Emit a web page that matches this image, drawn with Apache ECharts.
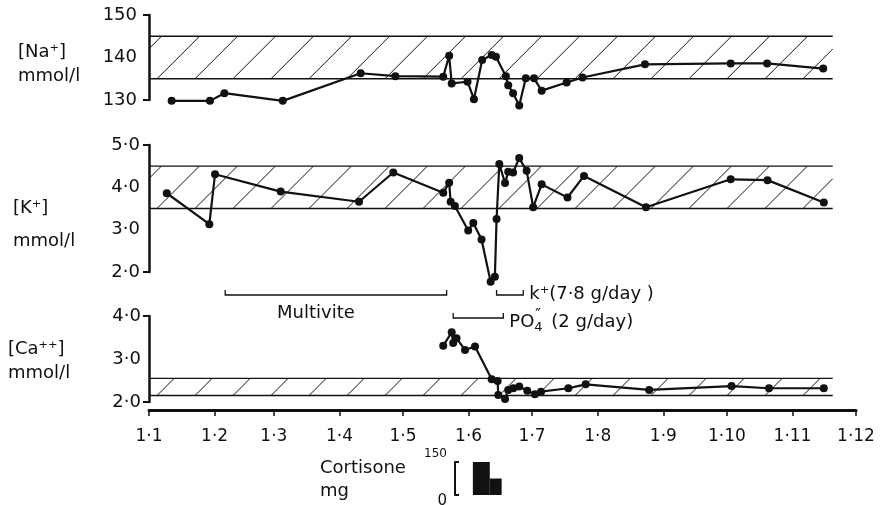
<!DOCTYPE html>
<html>
<head>
<meta charset="utf-8">
<title>Serum electrolytes</title>
<script src="https://cdn.jsdelivr.net/npm/echarts@6.0.0/dist/echarts.min.js"></script>
<style>
  html, body { margin: 0; padding: 0; background: #fff; }
  #chart { width: 881px; height: 505px; }
</style>
</head>
<body>
<div id="chart"></div>
<script>
// x values are days counted from 1 Jan (label 1·1)
const monthDays = [0, 31, 59, 90, 120, 151, 181, 212, 243, 273, 304, 334];
const monthLabels = ['1·1', '1·2', '1·3', '1·4', '1·5', '1·6', '1·7', '1·8', '1·9', '1·10', '1·11', '1·12'];

// [Na+] mmol/l
const naDays = [10.7, 28.8, 35.6, 63.2, 100, 116.4, 139, 141.8, 143, 150.5, 153.5, 157.4, 161.9, 163.9, 168.6, 169.7, 172, 174.9, 178, 181.9, 185.5, 197.3, 204.8, 234.3, 274.8, 292, 318.5];
const naVals = [129.8, 129.8, 131.6, 129.8, 136.3, 135.6, 135.5, 140.4, 133.9, 134.3, 130.2, 139.4, 140.6, 140.2, 135.6, 133.5, 131.6, 128.7, 135.1, 135.1, 132.2, 134.1, 135.3, 138.4, 138.6, 138.6, 137.4];

// [K+] mmol/l
const kDays = [8.4, 28.5, 31.2, 62.2, 99.2, 115.4, 139, 141.8, 142.5, 144.5, 150.8, 153.2, 157.1, 161.4, 163.4, 164.2, 165.5, 168.2, 169.7, 172, 174.9, 178.4, 181.5, 185.5, 197.7, 205.5, 234.8, 274.8, 292.2, 318.8];
const kVals = [3.86, 3.13, 4.31, 3.90, 3.66, 4.35, 3.87, 4.11, 3.66, 3.56, 2.98, 3.16, 2.77, 1.77, 1.89, 3.25, 4.55, 4.10, 4.37, 4.35, 4.69, 4.39, 3.53, 4.07, 3.76, 4.27, 3.53, 4.19, 4.17, 3.64];

// [Ca++] mmol/l
const caDays = [139, 143, 143.7, 145.3, 149.3, 154, 161.9, 164.7, 165, 168.2, 169.7, 172.1, 174.9, 178.7, 182.3, 185.2, 198.1, 206.3, 236.3, 275.2, 292.9, 318.8];
const caVals = [3.31, 3.62, 3.37, 3.48, 3.21, 3.29, 2.53, 2.49, 2.16, 2.07, 2.28, 2.32, 2.36, 2.26, 2.18, 2.24, 2.32, 2.41, 2.28, 2.37, 2.32, 2.32];

// normal ranges (hatched)
const naBand = [135, 145];
const kBand = [3.5, 4.5];
const caBand = [2.15, 2.55];
const bandEndDay = 323;

// treatments
const treatNames = ['Multivite', 'k⁺(7·8 g/day )', 'PO4'];
const treatStart = [36, 164.2, 143.7];
const treatEnd = [140.6, 176.8, 167.4];

// cortisone mg
const cortStart = [153, 161];
const cortEnd = [161, 166.6];
const cortDose = [150, 75];

const FONT = '"DejaVu Sans", "Liberation Sans", sans-serif';
const INK = '#111';

const grids = [
  { left: 149, right: 25, top: 15, height: 85 },   // Na
  { left: 149, right: 25, top: 145, height: 127 }, // K
  { left: 149, right: 25, top: 316, height: 86 },  // Ca
  { left: 149, right: 25, top: 462, height: 33 }   // cortisone
].map(g => Object.assign({ outerBoundsMode: 'none', containLabel: false }, g));

function hiddenX(i) {
  return { type: 'value', gridIndex: i, min: 0, max: 334, show: false };
}

function yAxisFor(i, min, max, interval, fmt, margin) {
  return {
    type: 'value', gridIndex: i, min, max, interval,
    axisLine: { show: true, lineStyle: { color: INK, width: 2.5 } },
    axisTick: { show: true, customValues: [min, max], length: 6, lineStyle: { color: INK, width: 2 } },
    axisLabel: { color: INK, fontSize: 18, fontFamily: FONT, margin, formatter: fmt },
    splitLine: { show: false }
  };
}

const dot = v => v.toFixed(1).replace('.', '·');

function bandSeries(i, band) {
  return {
    type: 'custom', xAxisIndex: i, yAxisIndex: i, z: 1, silent: true, clip: false,
    data: [[0, bandEndDay, band[0], band[1]]],
    renderItem(params, api) {
      const tl = api.coord([api.value(0), api.value(3)]);
      const br = api.coord([api.value(1), api.value(2)]);
      const left = tl[0], top = tl[1], right = br[0], bottom = br[1];
      const h = bottom - top;
      const step = 38;
      const children = [
        { type: 'line', shape: { x1: left, y1: top, x2: right, y2: top }, style: { stroke: INK, lineWidth: 1.4 } },
        { type: 'line', shape: { x1: left, y1: bottom, x2: right, y2: bottom }, style: { stroke: INK, lineWidth: 1.6 } }
      ];
      for (let s = left + 8 - Math.ceil(h / step + 1) * step; s < right; s += step) {
        const ta = Math.max(0, (left - s) / h);
        const tb = Math.min(1, (right - s) / h);
        if (tb <= ta) continue;
        children.push({
          type: 'line',
          shape: { x1: s + ta * h, y1: bottom - ta * h, x2: s + tb * h, y2: bottom - tb * h },
          style: { stroke: INK, lineWidth: 1 }
        });
      }
      return { type: 'group', children };
    }
  };
}

function lineSeries(i, days, vals) {
  return {
    type: 'line', xAxisIndex: i, yAxisIndex: i, z: 3, clip: false, silent: true,
    data: days.map((d, k) => [d, vals[k]]),
    symbol: 'circle', symbolSize: 8,
    itemStyle: { color: INK },
    lineStyle: { color: INK, width: 2.2 }
  };
}

// bracket rows sit above the Ca panel
const treatRowY = [295, 295, 318];

const treatSeries = {
  type: 'custom', xAxisIndex: 2, yAxisIndex: 2, clip: false, silent: true, z: 2,
  data: treatNames.map((n, k) => [treatStart[k], treatEnd[k]]),
  renderItem(params, api) {
    const i = params.dataIndex;
    const xs = api.coord([api.value(0), 3])[0];
    const xe = api.coord([api.value(1), 3])[0];
    const y = treatRowY[i];
    const font = '18px ' + FONT;
    const children = [{
      type: 'polyline',
      shape: { points: [[xs, y - 5], [xs, y], [xe, y], [xe, y - 5]] },
      style: { stroke: INK, lineWidth: 1.3, fill: null }
    }];
    if (i === 0) {
      children.push({ type: 'text', style: { x: (xs + xe) / 2 - 20, y: y + 18, text: treatNames[i], font, fill: INK, align: 'center', verticalAlign: 'middle' } });
    } else if (i === 1) {
      children.push({ type: 'text', style: { x: xe + 6, y: y - 1, text: treatNames[i], font, fill: INK, align: 'left', verticalAlign: 'middle' } });
    } else {
      const x = xe + 6;
      children.push(
        { type: 'text', style: { x, y: y + 4, text: 'PO', font, fill: INK, align: 'left', verticalAlign: 'middle' } },
        { type: 'text', style: { x: x + 25, y: y + 10, text: '4', font: '13px ' + FONT, fill: INK, align: 'left', verticalAlign: 'middle' } },
        { type: 'text', style: { x: x + 26, y: y - 2, text: '″', font: '15px ' + FONT, fill: INK, align: 'left', verticalAlign: 'middle' } },
        { type: 'text', style: { x: x + 42, y: y + 4, text: '(2 g/day)', font, fill: INK, align: 'left', verticalAlign: 'middle' } }
      );
    }
    return { type: 'group', children };
  }
};

const cortSeries = {
  type: 'custom', xAxisIndex: 3, yAxisIndex: 3, clip: false, silent: true,
  data: cortDose.map((v, k) => [cortStart[k], cortEnd[k], v]),
  renderItem(params, api) {
    const p0 = api.coord([api.value(0), api.value(2)]);
    const p1 = api.coord([api.value(1), 0]);
    return {
      type: 'rect',
      shape: { x: p0[0], y: p0[1], width: p1[0] - p0[0], height: p1[1] - p0[1] },
      style: { fill: INK }
    };
  }
};

function label(text, x, y, size) {
  return { type: 'text', x, y, style: { text, font: (size || 18) + 'px ' + FONT, fill: INK, verticalAlign: 'middle' } };
}

const option = {
  animation: false,
  backgroundColor: '#fff',
  grid: grids,
  xAxis: [
    hiddenX(0), hiddenX(1),
    {
      type: 'value', gridIndex: 2, min: 0, max: 334, offset: 8,
      axisLine: { onZero: false, lineStyle: { color: INK, width: 3 } },
      axisTick: { show: true, customValues: monthDays, length: 6, lineStyle: { color: INK, width: 1.5 } },
      axisLabel: {
        customValues: monthDays, color: INK, fontSize: 17, fontFamily: FONT, margin: 18,
        formatter: v => monthLabels[monthDays.indexOf(Math.round(v))]
      },
      splitLine: { show: false }
    },
    hiddenX(3)
  ],
  yAxis: [
    yAxisFor(0, 130, 150, 10, v => String(v), 12),
    yAxisFor(1, 2, 5, 1, dot, 9),
    yAxisFor(2, 2, 4, 1, dot, 8),
    {
      type: 'value', gridIndex: 3, min: 0, max: 150, interval: 150, offset: -306,
      axisLine: { show: true, lineStyle: { color: INK, width: 2 } },
      axisTick: { show: true, inside: true, length: 4, lineStyle: { color: INK, width: 2 } },
      axisLabel: {
        color: INK, fontFamily: FONT, margin: 8,
        formatter: v => (v === 150 ? '{a|150}' : '{b|0}'),
        rich: {
          a: { fontSize: 12, fontFamily: FONT, color: INK, padding: [0, 0, 16, 0] },
          b: { fontSize: 15, fontFamily: FONT, color: INK, padding: [12, 0, 0, 0] }
        }
      },
      splitLine: { show: false }
    }
  ],
  graphic: [
    label('[Na⁺]', 18, 52),
    label('mmol/l', 18, 76),
    label('[K⁺]', 13, 208),
    label('mmol/l', 13, 241),
    label('[Ca⁺⁺]', 8, 349),
    label('mmol/l', 8, 373),
    label('Cortisone', 320, 468),
    label('mg', 320, 491)
  ],
  series: [
    bandSeries(0, naBand),
    bandSeries(1, kBand),
    bandSeries(2, caBand),
    lineSeries(0, naDays, naVals),
    lineSeries(1, kDays, kVals),
    lineSeries(2, caDays, caVals),
    treatSeries,
    cortSeries
  ]
};

const chart = echarts.init(document.getElementById('chart'));
chart.setOption(option);
</script>
</body>
</html>
